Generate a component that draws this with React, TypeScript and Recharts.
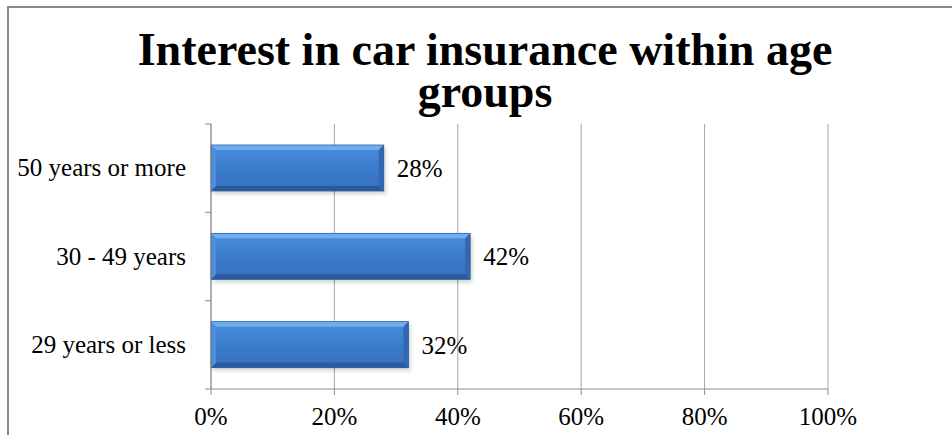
import React from "react";
import { BarChart, Bar, XAxis, YAxis, CartesianGrid, LabelList } from "recharts";

const groups = ["50 years or more", "30 - 49 years", "29 years or less"];
const shares = [0.28, 0.42, 0.32];
const xTicks = [0, 0.2, 0.4, 0.6, 0.8, 1];
const titleLines = ["Interest in car insurance within age", "groups"];

const data = groups.map((g, i) => ({ group: g, share: shares[i] }));

const FONT = '"Liberation Serif", "Times New Roman", serif';
const AXIS = "#8c8c8c";

const pct = (v: number) => `${Math.round(v * 100)}%`;

const BevelBar = (props: any) => {
  const { x, y, width, height } = props;
  if (!width || width <= 0) return null;
  const b = 5;
  const r = x + width;
  const bt = y + height;
  return (
    <g>
      <rect x={x + 2} y={y + 3} width={width} height={height} fill="#000" opacity={0.18} filter="url(#barShadow)" />
      <rect x={x} y={y} width={width} height={height} fill="url(#barFill)" />
      <polygon points={`${x},${y} ${r},${y} ${r - b},${y + b} ${x + b},${y + b}`} fill="#6eaef2" />
      <polygon points={`${x},${bt} ${r},${bt} ${r - b},${bt - b} ${x + b},${bt - b}`} fill="#2a5a9c" />
      <polygon points={`${r},${y} ${r},${bt} ${r - b},${bt - b} ${r - b},${y + b}`} fill="#3068b2" />
      <polygon points={`${x},${y} ${x},${bt} ${x + b},${bt - b} ${x + b},${y + b}`} fill="#4d8fdc" />
      <rect x={x} y={y} width={width} height={height} fill="none" stroke="#2d5f9f" strokeWidth={0.8} />
    </g>
  );
};

const GroupTick = (props: any) => {
  const { x, y, payload, index, visibleTicksCount } = props;
  const half = payload.offset || 44;
  return (
    <g>
      <line x1={211 - 6} x2={211} y1={y - half} y2={y - half} stroke={AXIS} />
      {index === visibleTicksCount - 1 && (
        <line x1={211 - 6} x2={211} y1={y + half} y2={y + half} stroke={AXIS} />
      )}
      <text x={x - 17} y={y} dy="0.33em" textAnchor="end" fontFamily={FONT} fontSize={25} fill="#000">
        {payload.value}
      </text>
    </g>
  );
};

export default function App() {
  return (
    <div style={{ position: "absolute", left: 0, top: 0, width: 952, height: 435, background: "#fff", overflow: "hidden" }}>
      <div
        style={{
          position: "absolute",
          left: 7,
          top: 6,
          width: 960,
          height: 440,
          borderTop: "2px solid #8a8a8a",
          borderLeft: "2px solid #8a8a8a",
        }}
      />
      {titleLines.map((line, i) => (
        <div
          key={line}
          style={{
            position: "absolute",
            left: 0,
            top: 29 + i * 42,
            width: 970,
            height: 42,
            textAlign: "center",
            fontFamily: FONT,
            fontWeight: "bold",
            fontSize: 46,
            lineHeight: "42px",
            color: "#000",
          }}
        >
          {line}
        </div>
      ))}
      <div style={{ position: "absolute", left: 0, top: 0 }}>
        <BarChart
          width={952}
          height={435}
          data={data}
          layout="vertical"
          margin={{ top: 124, right: 124, bottom: 6, left: 0 }}
        >
          <defs>
            <linearGradient id="barFill" x1="0" y1="0" x2="0" y2="1">
              <stop offset="0%" stopColor="#4a8ddc" />
              <stop offset="50%" stopColor="#3c7ccc" />
              <stop offset="100%" stopColor="#3470bd" />
            </linearGradient>
            <filter id="barShadow" x="-10%" y="-30%" width="120%" height="160%">
              <feGaussianBlur stdDeviation="2" />
            </filter>
          </defs>
          <CartesianGrid horizontal={false} stroke="#a6a6a6" />
          <XAxis
            type="number"
            domain={[0, 1]}
            ticks={xTicks}
            tickFormatter={pct}
            height={40}
            tickSize={6}
            tickMargin={12}
            stroke={AXIS}
            tick={{ fill: "#000", fontFamily: FONT, fontSize: 25 }}
          />
          <YAxis
            type="category"
            dataKey="group"
            width={211}
            tickLine={false}
            stroke={AXIS}
            tick={<GroupTick />}
          />
          <Bar dataKey="share" barSize={46} shape={<BevelBar />} isAnimationActive={false}>
            <LabelList
              dataKey="share"
              position="right"
              offset={13}
              formatter={(v: any) => pct(Number(v))}
              style={{ fill: "#000", fontFamily: FONT, fontSize: 25 }}
            />
          </Bar>
        </BarChart>
      </div>
    </div>
  );
}
